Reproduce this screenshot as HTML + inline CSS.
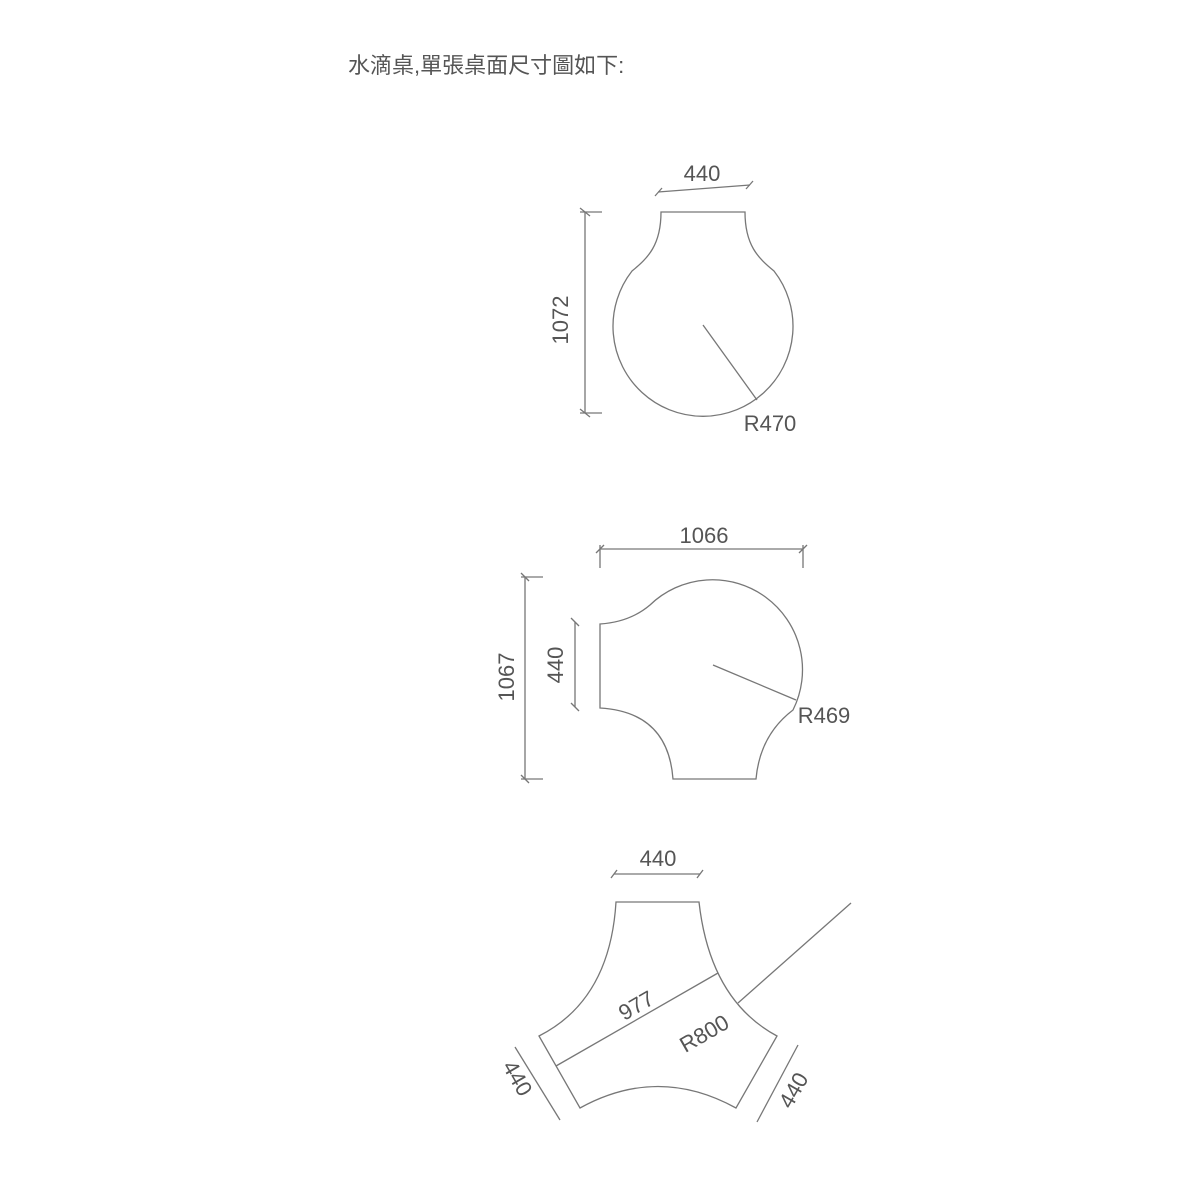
<!DOCTYPE html>
<html><head><meta charset="utf-8"><style>
html,body{margin:0;padding:0;background:#fff;}
svg{display:block;}
text{font-family:"Liberation Sans","Noto Sans CJK TC",sans-serif;fill:#555;}
</style></head><body>
<svg width="1181" height="1181" viewBox="0 0 1181 1181" xmlns="http://www.w3.org/2000/svg">
<text x="348" y="73" font-size="22" fill="#444">水滴桌,單張桌面尺寸圖如下:</text>
<g fill="none" stroke="#777" stroke-width="1.3">
<!-- top shape -->
<path d="M661,212 L745,212 C745,245 758,258 774,271 A90,90 0 1 1 632,271 C648,258 661,245 661,212 Z"/>
<line x1="703" y1="325" x2="757" y2="400"/>
<line x1="585" y1="212" x2="585" y2="413"/>
<line x1="580" y1="212" x2="602" y2="212"/><line x1="580" y1="413" x2="602" y2="413"/>
<line x1="580" y1="208" x2="590" y2="216"/><line x1="580" y1="409" x2="590" y2="417"/>
<line x1="658" y1="192" x2="750" y2="185"/>
<line x1="655" y1="196" x2="662" y2="188"/><line x1="746" y1="189" x2="753" y2="181"/>
<!-- middle shape -->
<path d="M600,624 Q630,622 650,605 A90,90 0 0 1 793,710 Q760,735 756,779 L673,779 Q668,712 600,708 Z"/>
<line x1="713" y1="665" x2="796" y2="700"/>
<line x1="600" y1="549" x2="803" y2="549"/>
<line x1="600" y1="545" x2="600" y2="568"/><line x1="803" y1="545" x2="803" y2="568"/>
<line x1="596" y1="553" x2="604" y2="545"/><line x1="799" y1="553" x2="807" y2="545"/>
<line x1="525" y1="577" x2="525" y2="779"/>
<line x1="521" y1="577" x2="543" y2="577"/><line x1="521" y1="779" x2="543" y2="779"/>
<line x1="521" y1="573" x2="529" y2="581"/><line x1="521" y1="775" x2="529" y2="783"/>
<line x1="575" y1="622" x2="575" y2="707"/>
<line x1="571" y1="618" x2="579" y2="626"/><line x1="571" y1="703" x2="579" y2="711"/>
<!-- bottom shape -->
<path d="M616,902 L699,902 Q710,1000 777,1036 L736,1108 Q658,1065 580,1108 L539,1036 Q610,1000 616,902 Z"/>
<line x1="556" y1="1066" x2="718" y2="973"/>
<line x1="738" y1="1003" x2="851" y2="903"/>
<line x1="614" y1="874" x2="700" y2="874"/>
<line x1="611" y1="878" x2="617" y2="870"/><line x1="697" y1="878" x2="703" y2="870"/>
<line x1="515" y1="1047" x2="560" y2="1120"/>
<line x1="798" y1="1045" x2="757" y2="1122"/>
</g>
<g font-size="22">
<text x="702" y="181" text-anchor="middle">440</text>
<text x="770" y="431" text-anchor="middle">R470</text>
<text transform="translate(568,320) rotate(-90)" text-anchor="middle">1072</text>
<text x="704" y="543" text-anchor="middle">1066</text>
<text transform="translate(514,677) rotate(-90)" text-anchor="middle">1067</text>
<text transform="translate(563,665) rotate(-90)" text-anchor="middle">440</text>
<text x="824" y="723" text-anchor="middle">R469</text>
<text x="658" y="866" text-anchor="middle">440</text>
<text transform="translate(640,1012) rotate(-30)" text-anchor="middle">977</text>
<text transform="translate(708,1040) rotate(-30)" text-anchor="middle">R800</text>
<text transform="translate(511,1082) rotate(60)" text-anchor="middle">440</text>
<text transform="translate(800,1094) rotate(-60)" text-anchor="middle">440</text>
</g>
</svg>
</body></html>
